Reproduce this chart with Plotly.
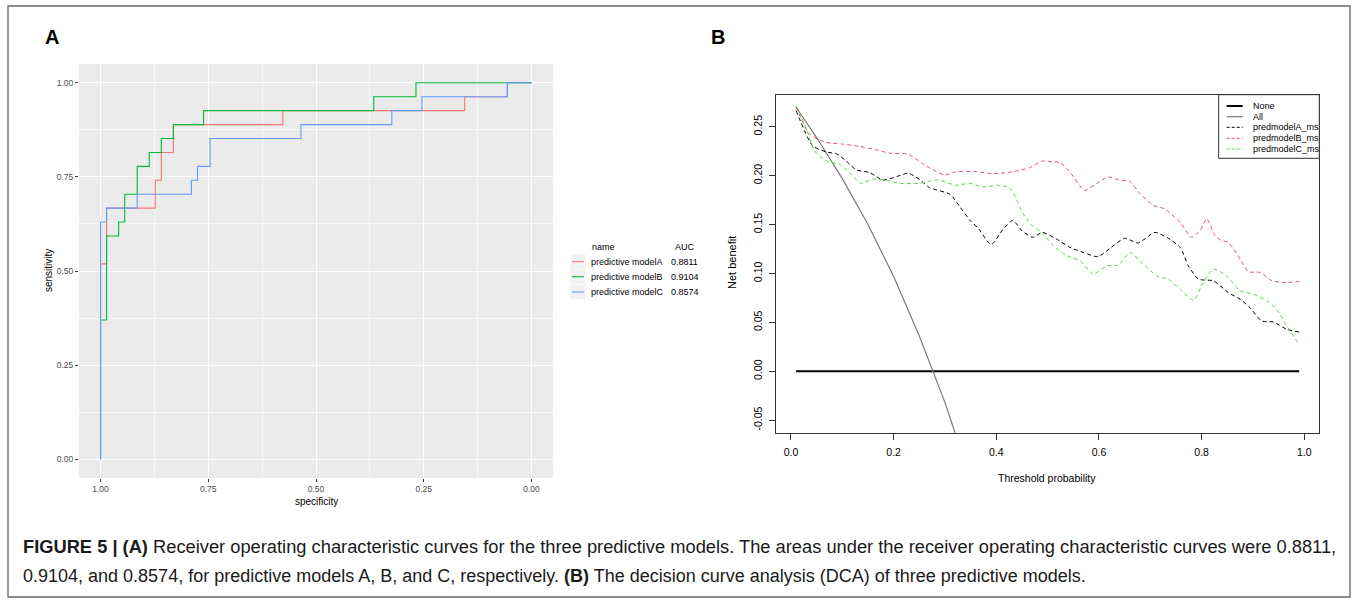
import plotly.graph_objects as go

W, H = 1358, 600

# ---------------- Panel A data (ROC step paths: specificity, sensitivity) ----------------
roc_names = ["predictive modelA", "predictive modelB", "predictive modelC"]
roc_auc = ["0.8811", "0.9104", "0.8574"]
roc_colors = ["#F8766D", "#00BA38", "#619CFF"]

specA = [1.000, 1.000, 0.986, 0.986, 0.873, 0.873, 0.859, 0.859, 0.831, 0.831, 0.577, 0.577, 0.155, 0.155, 0.056, 0.056, 0.000]
sensA = [0.000, 0.519, 0.519, 0.667, 0.667, 0.741, 0.741, 0.815, 0.815, 0.889, 0.889, 0.926, 0.926, 0.963, 0.963, 1.000, 1.000]

specB = [1.000, 1.000, 0.986, 0.986, 0.958, 0.958, 0.944, 0.944, 0.915, 0.915, 0.887, 0.887, 0.859, 0.859, 0.831, 0.831, 0.761, 0.761, 0.366, 0.366, 0.268, 0.268, 0.000]
sensB = [0.000, 0.370, 0.370, 0.593, 0.593, 0.630, 0.630, 0.704, 0.704, 0.778, 0.778, 0.815, 0.815, 0.852, 0.852, 0.889, 0.889, 0.926, 0.926, 0.963, 0.963, 1.000, 1.000]

specC = [1.000, 1.000, 0.986, 0.986, 0.915, 0.915, 0.789, 0.789, 0.775, 0.775, 0.746, 0.746, 0.535, 0.535, 0.324, 0.324, 0.254, 0.254, 0.056, 0.056, 0.000]
sensC = [0.000, 0.630, 0.630, 0.667, 0.667, 0.704, 0.704, 0.741, 0.741, 0.778, 0.778, 0.852, 0.852, 0.889, 0.889, 0.926, 0.926, 0.963, 0.963, 1.000, 1.000]

roc_ticks = [0.0, 0.25, 0.5, 0.75, 1.0]

# ---------------- Panel B data (decision curves) ----------------
thr_none = [0.01, 0.99]
nb_none = [0.0, 0.0]

thr_all = [0.01, 0.05, 0.10, 0.15, 0.20, 0.25, 0.30, 0.34]
nb_all = [0.270, 0.239, 0.197, 0.150, 0.097, 0.036, -0.032, -0.095]

thr_A = [0.01, 0.042, 0.068, 0.09, 0.107, 0.127, 0.153, 0.179, 0.2, 0.228, 0.25, 0.27, 0.31, 0.328, 0.35,
         0.364, 0.39, 0.413, 0.432, 0.451, 0.471, 0.49, 0.517, 0.543, 0.569, 0.598, 0.624, 0.65, 0.676,
         0.709, 0.735, 0.758, 0.774, 0.794, 0.823, 0.852, 0.875, 0.894, 0.917, 0.94, 0.966, 0.99]
nb_A = [0.2666, 0.2306, 0.2244, 0.222, 0.2152, 0.206, 0.2032, 0.1956, 0.198, 0.2025, 0.1963, 0.1878, 0.1809,
        0.1689, 0.1535, 0.1467, 0.1295, 0.145, 0.1542, 0.1432, 0.137, 0.142, 0.1353, 0.1268, 0.1216, 0.1172,
        0.1268, 0.136, 0.1312, 0.142, 0.136, 0.1268, 0.1079, 0.0942, 0.0925, 0.0805, 0.0737, 0.0651, 0.0514,
        0.0504, 0.0428, 0.0401]

thr_B = [0.01, 0.036, 0.068, 0.1, 0.133, 0.166, 0.192, 0.228, 0.263, 0.299, 0.322, 0.361, 0.393, 0.432, 0.464,
         0.49, 0.51, 0.524, 0.543, 0.572, 0.595, 0.618, 0.641, 0.66, 0.68, 0.706, 0.728, 0.758, 0.78, 0.797,
         0.81, 0.826, 0.839, 0.852, 0.875, 0.891, 0.914, 0.937, 0.966, 0.99]
nb_B = [0.270, 0.2426, 0.234, 0.2323, 0.230, 0.2265, 0.223, 0.222, 0.210, 0.2008, 0.204, 0.2042, 0.202, 0.204,
        0.208, 0.2150, 0.2141, 0.2134, 0.204, 0.185, 0.1918, 0.1987, 0.1953, 0.194, 0.1816, 0.1696, 0.166,
        0.1525, 0.137, 0.1439, 0.1559, 0.1388, 0.1336, 0.1319, 0.1148, 0.1018, 0.1011, 0.0925, 0.0908, 0.0918]

thr_C = [0.01, 0.03, 0.046, 0.068, 0.094, 0.114, 0.136, 0.159, 0.185, 0.211, 0.25, 0.286, 0.322, 0.348, 0.374,
         0.403, 0.425, 0.438, 0.451, 0.471, 0.49, 0.511, 0.537, 0.563, 0.589, 0.615, 0.638, 0.66, 0.683, 0.712,
         0.735, 0.758, 0.784, 0.803, 0.823, 0.849, 0.875, 0.901, 0.927, 0.946, 0.966, 0.99]
nb_C = [0.2717, 0.2477, 0.2254, 0.2152, 0.2118, 0.2032, 0.1922, 0.1963, 0.1956, 0.1922, 0.1922, 0.1956, 0.1902,
        0.1922, 0.1885, 0.1902, 0.1878, 0.1775, 0.162, 0.1484, 0.1415, 0.1285, 0.1182, 0.113, 0.0993, 0.1079,
        0.1086, 0.1216, 0.1113, 0.0976, 0.0942, 0.0839, 0.0726, 0.0908, 0.1045, 0.0976, 0.0822, 0.0788, 0.072,
        0.0634, 0.0463, 0.0274]

dca_names = ["None", "All", "predmodelA_ms", "predmodelB_ms", "predmodelC_ms"]
dca_colors = ["#000000", "#7a7a7a", "#000000", "#DF536B", "#61D04F"]
dca_xticks = [0.0, 0.2, 0.4, 0.6, 0.8, 1.0]
dca_yticks = [-0.05, 0.0, 0.05, 0.10, 0.15, 0.20, 0.25]
dca_yticktext = ["-0.05", "0.00", "0.05", "0.10", "0.15", "0.20", "0.25"]

caption1 = ("<b>FIGURE 5 | (A)</b> Receiver operating characteristic curves for the three predictive models. "
            "The areas under the receiver operating characteristic curves were 0.8811,")
caption2 = ("0.9104, and 0.8574, for predictive models A, B, and C, respectively. "
            "<b>(B)</b> The decision curve analysis (DCA) of three predictive models.")

FONT = "Liberation Sans, Arial, sans-serif"


def px(x):
    return x / W


def py(y):
    return 1 - y / H


fig = go.Figure()

# Panel A traces
for s, se, c, n in zip([specA, specB, specC], [sensA, sensB, sensC], roc_colors, roc_names):
    fig.add_trace(go.Scatter(x=s, y=se, mode="lines", line=dict(color=c, width=1.1),
                             name=n, showlegend=False, xaxis="x", yaxis="y", hoverinfo="skip"))

# Panel B traces
fig.add_trace(go.Scatter(x=thr_none, y=nb_none, mode="lines", line=dict(color=dca_colors[0], width=2),
                         showlegend=False, xaxis="x2", yaxis="y2"))
fig.add_trace(go.Scatter(x=thr_all, y=nb_all, mode="lines", line=dict(color=dca_colors[1], width=1.2),
                         showlegend=False, xaxis="x2", yaxis="y2"))
for tx, ty, c in zip([thr_A, thr_B, thr_C], [nb_A, nb_B, nb_C], dca_colors[2:]):
    fig.add_trace(go.Scatter(x=tx, y=ty, mode="lines",
                             line=dict(color=c, width=1, dash="4px,3px", shape="spline", smoothing=0.6),
                             showlegend=False, xaxis="x2", yaxis="y2"))

# Axes geometry (pixels)
axA_x = [79, 553]
axA_y = [64, 478]
axB_x = [776, 1319.3]
axB_y = [94.7, 432.7]

fig.update_layout(
    width=W, height=H, margin=dict(l=0, r=0, t=0, b=0),
    paper_bgcolor="white", plot_bgcolor="rgba(0,0,0,0)",
    font=dict(family=FONT, color="#000"),
    showlegend=False,
    xaxis=dict(domain=[px(axA_x[0]), px(axA_x[1])], range=[1.05, -0.05], anchor="y",
               tickvals=roc_ticks, tickformat=".2f", showgrid=True, gridcolor="white", gridwidth=1.1,
               minor=dict(dtick=0.25, tick0=0.125, showgrid=True, gridcolor="#F7F7F7", gridwidth=0.6),
               zeroline=False, showline=False, ticks="outside", ticklen=3, tickcolor="#333",
               tickfont=dict(size=8.5, color="#4D4D4D")),
    yaxis=dict(domain=[py(axA_y[1]), py(axA_y[0])], range=[-0.05, 1.05], anchor="x",
               tickvals=roc_ticks, tickformat=".2f", showgrid=True, gridcolor="white", gridwidth=1.1,
               minor=dict(dtick=0.25, tick0=0.125, showgrid=True, gridcolor="#F7F7F7", gridwidth=0.6),
               zeroline=False, showline=False, ticks="outside", ticklen=3, tickcolor="#333",
               tickfont=dict(size=8.5, color="#4D4D4D")),
    xaxis2=dict(domain=[px(axB_x[0]), px(axB_x[1])], range=[-0.0292, 1.0292], anchor="y2",
                tickvals=dca_xticks, tickformat=".1f", showgrid=False, zeroline=False,
                showline=True, mirror=True, linecolor="#333", linewidth=1,
                ticks="outside", ticklen=6, tickcolor="#333", ticklabelstandoff=4,
                tickfont=dict(size=10.5, color="#000")),
    yaxis2=dict(domain=[py(axB_y[1]), py(axB_y[0])], range=[-0.0628, 0.2828], anchor="x2",
                tickvals=dca_yticks, ticktext=dca_yticktext, tickangle=-90, showgrid=False, zeroline=False,
                showline=True, mirror=True, linecolor="#333", linewidth=1,
                ticks="outside", ticklen=6, tickcolor="#333", ticklabelstandoff=3,
                tickfont=dict(size=10.5, color="#000")),
)

shapes = []
# panel A grey background
shapes.append(dict(type="rect", xref="x domain", yref="y domain", x0=0, x1=1, y0=0, y1=1,
                   fillcolor="#EBEBEB", line=dict(width=0), layer="below"))
# outer frame
shapes.append(dict(type="rect", xref="paper", yref="paper", x0=px(8), x1=px(1350), y0=py(597), y1=py(6),
                   line=dict(color="#666", width=1.3), fillcolor="rgba(0,0,0,0)"))

annotations = []


def ann(text, x, y, size, xanchor="center", **kw):
    annotations.append(dict(text=text, x=px(x), y=py(y), xref="paper", yref="paper",
                            xanchor=xanchor, yanchor="middle", showarrow=False,
                            font=dict(size=size, family=FONT, color=kw.pop("color", "#000")), **kw))


# panel letters
ann("<b>A</b>", 52, 37, 20)
ann("<b>B</b>", 718, 37, 20)
# Panel A axis titles
ann("sensitivity", 48, 271, 10, textangle=-90)
ann("specificity", 316, 501, 10)
# Panel A legend
ann("name", 590, 247, 9, xanchor="left")
ann("AUC", 673, 247, 9, xanchor="left")
rows_y = [261.7, 276.7, 292.0]
for ry, n, a, c in zip(rows_y, roc_names, roc_auc, roc_colors):
    shapes.append(dict(type="rect", xref="paper", yref="paper", x0=px(570.5), x1=px(585.5),
                       y0=py(ry + 7.3), y1=py(ry - 7.3), fillcolor="#F2F2F2", line=dict(width=0)))
    shapes.append(dict(type="line", xref="paper", yref="paper", x0=px(572), x1=px(584),
                       y0=py(ry), y1=py(ry), line=dict(color=c, width=1.1)))
    ann(n, 589, ry, 9, xanchor="left")
    ann(a, 669, ry, 9, xanchor="left")

# Panel B axis titles
ann("Threshold probability", 1047, 478, 10.5)
ann("Net benefit", 732, 263, 11, textangle=-90)

# Panel B legend box
shapes.append(dict(type="rect", xref="paper", yref="paper", x0=px(1218.7), x1=px(1319.3),
                   y0=py(158.3), y1=py(94.7), line=dict(color="#333", width=1), fillcolor="white"))
leg_y = [106, 116.7, 127.3, 138.3, 149]
leg_w = [2, 1.2, 1, 1, 1]
leg_dash = ["solid", "solid", "3px,2px", "3px,2px", "3px,2px"]
for ly, n, c, lw, d in zip(leg_y, dca_names, dca_colors, leg_w, leg_dash):
    shapes.append(dict(type="line", xref="paper", yref="paper", x0=px(1226.7), x1=px(1242.7),
                       y0=py(ly), y1=py(ly), line=dict(color=c, width=lw, dash=d)))
    ann(n, 1250.7, ly, 9, xanchor="left")

# caption
ann(caption1, 21, 546, 18.3, xanchor="left", color="#1a1a1a")
ann(caption2, 21, 576, 18, xanchor="left", color="#1a1a1a")

fig.update_layout(shapes=shapes, annotations=annotations)

fig.write_html("out.html", config={"displayModeBar": False},
               post_script="document.body.style.margin='0px';")
